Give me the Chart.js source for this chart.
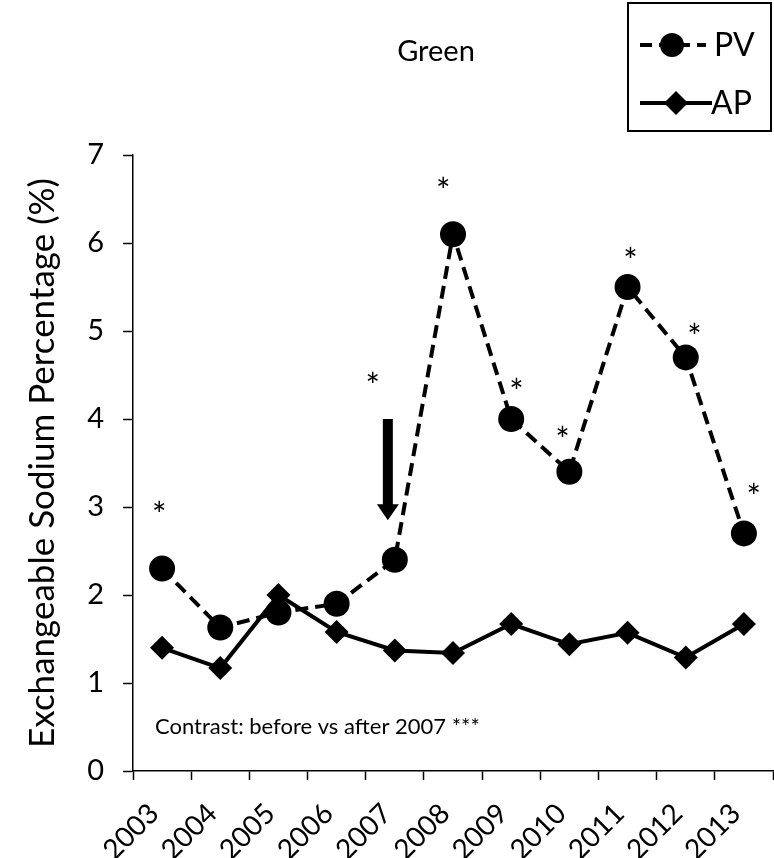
<!DOCTYPE html>
<html>
<head>
<meta charset="utf-8">
<script src="https://cdn.jsdelivr.net/npm/chart.js@4"></script>
<style>
  html, body { margin: 0; padding: 0; background: #fff; }
  #wrap { width: 774px; height: 858px; }
</style>
</head>
<body>
<div id="wrap"><canvas id="mainChart" width="774" height="858"></canvas></div>
<script>
// Data
const years = ['2003', '2004', '2005', '2006', '2007', '2008', '2009', '2010', '2011', '2012', '2013'];
const pvValues = [2.3, 1.63, 1.8, 1.9, 2.4, 6.1, 4.0, 3.4, 5.5, 4.7, 2.7];
const apValues = [1.4, 1.17, 2.0, 1.58, 1.37, 1.34, 1.67, 1.44, 1.57, 1.29, 1.67];
const yTicks = [0, 1, 2, 3, 4, 5, 6, 7];

// significance stars: category index (with small shift) and height in % units
const starIndex = [-0.05, 3.62, 4.83, 6.09, 6.88, 8.05, 9.15, 10.17];
const starLevel = [3.0, 4.46, 6.68, 4.4, 3.85, 5.88, 5.02, 3.2];

// arrow marking 2007: category position, top and tip level
const arrowIndex = 3.88;
const arrowTop = 4.0;
const arrowTip = 2.85;

const FONT = 'Lato, "Open Sans", sans-serif';

const annotations = {
    id: 'annotations',
    afterDatasetsDraw(chart) {
        const ctx = chart.ctx;
        const x = chart.scales.x;
        const y = chart.scales.y;
        const posX = (idx) => x.getPixelForValue(0) + idx * (x.getPixelForValue(1) - x.getPixelForValue(0));

        ctx.save();
        ctx.fillStyle = '#000';

        // stars
        const starSize = 34;
        ctx.font = starSize + 'px ' + FONT;
        ctx.textAlign = 'center';
        ctx.textBaseline = 'alphabetic';
        starIndex.forEach((idx, i) => {
            ctx.fillText('*', posX(idx), y.getPixelForValue(starLevel[i]) + starSize * 0.58);
        });

        // arrow
        const ax = posX(arrowIndex);
        const top = y.getPixelForValue(arrowTop);
        const tip = y.getPixelForValue(arrowTip);
        const head = 16;
        ctx.fillRect(ax - 5, top, 10, tip - top - head + 1);
        ctx.beginPath();
        ctx.moveTo(ax - 11, tip - head);
        ctx.lineTo(ax + 11, tip - head);
        ctx.lineTo(ax, tip);
        ctx.closePath();
        ctx.fill();

        // contrast note
        ctx.font = '22px ' + FONT;
        ctx.textAlign = 'left';
        ctx.textBaseline = 'middle';
        ctx.fillText('Contrast: before vs after 2007 ***', chart.chartArea.left + 22, y.getPixelForValue(0.5));
        ctx.restore();
    },
    afterDraw(chart) {
        const ctx = chart.ctx;
        ctx.save();
        ctx.fillStyle = '#000';
        ctx.strokeStyle = '#000';

        // title
        ctx.font = '29px ' + FONT;
        ctx.textAlign = 'center';
        ctx.textBaseline = 'middle';
        ctx.fillText('Green', 436, 52);

        // legend box
        ctx.lineWidth = 2;
        ctx.strokeRect(628, 3, 143, 128);

        ctx.lineWidth = 4;
        // PV row
        ctx.setLineDash([12, 7]);
        ctx.beginPath();
        ctx.moveTo(640, 45);
        ctx.lineTo(706, 45);
        ctx.stroke();
        ctx.setLineDash([]);
        ctx.beginPath();
        ctx.arc(672, 45, 12, 0, Math.PI * 2);
        ctx.fill();
        // AP row
        ctx.beginPath();
        ctx.moveTo(640, 103);
        ctx.lineTo(712, 103);
        ctx.stroke();
        ctx.beginPath();
        ctx.moveTo(676, 91);
        ctx.lineTo(688, 103);
        ctx.lineTo(676, 115);
        ctx.lineTo(664, 103);
        ctx.closePath();
        ctx.fill();

        ctx.font = '32px ' + FONT;
        ctx.textAlign = 'left';
        ctx.fillText('PV', 714, 46);
        ctx.fillText('AP', 711, 104);
        ctx.restore();
    }
};

const ctx = document.getElementById('mainChart').getContext('2d');
new Chart(ctx, {
    type: 'line',
    data: {
        labels: years,
        datasets: [
            {
                label: 'AP',
                data: apValues,
                borderColor: '#000',
                backgroundColor: '#000',
                borderWidth: 4,
                pointStyle: 'rectRot',
                pointRadius: 12,
                pointBorderWidth: 0,
                tension: 0
            },
            {
                label: 'PV',
                data: pvValues,
                borderColor: '#000',
                backgroundColor: '#000',
                borderWidth: 4,
                borderDash: [13, 7],
                pointStyle: 'circle',
                pointRadius: 13,
                pointBorderWidth: 0,
                tension: 0
            }
        ]
    },
    options: {
        responsive: false,
        animation: false,
        layout: { autoPadding: false, padding: { top: 155, right: 1, left: 0, bottom: 0 } },
        plugins: {
            legend: { display: false },
            title: { display: false },
            tooltip: { enabled: false }
        },
        scales: {
            x: {
                type: 'category',
                offset: true,
                grid: {
                    offset: true,
                    drawOnChartArea: false,
                    drawTicks: true,
                    tickLength: 9,
                    tickWidth: 1.5,
                    color: '#000'
                },
                border: { color: '#000', width: 1.5 },
                ticks: {
                    color: '#000',
                    font: { family: FONT, size: 28 },
                    minRotation: 45,
                    maxRotation: 45,
                    autoSkip: false,
                    padding: 17,
                    labelOffset: -8
                },
                afterFit(scale) {
                    scale.height = 87;
                    scale.paddingLeft = 0;
                    scale.paddingRight = 0;
                }
            },
            y: {
                min: 0,
                max: 7,
                afterBuildTicks(scale) { scale.ticks = yTicks.map(v => ({ value: v })); },
                grid: {
                    drawOnChartArea: false,
                    drawTicks: true,
                    tickLength: 10,
                    tickWidth: 1.5,
                    color: '#000'
                },
                border: { color: '#000', width: 1.5 },
                ticks: {
                    color: '#000',
                    font: { family: FONT, size: 29 },
                    padding: 19
                },
                title: {
                    display: true,
                    text: 'Exchangeable Sodium Percentage (%)',
                    color: '#000',
                    font: { family: FONT, size: 35 },
                    padding: { top: 22, bottom: 0 }
                },
                afterFit(scale) { scale.width = 133; }
            }
        }
    },
    plugins: [annotations]
});
</script>
</body>
</html>
